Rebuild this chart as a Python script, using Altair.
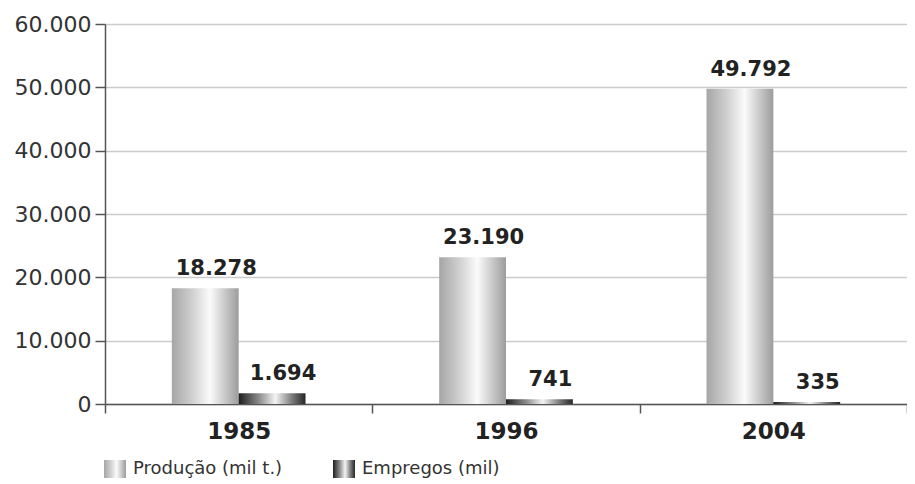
import altair as alt
import pandas as pd

anos = ["1985", "1996", "2004"]
series = ["Produção (mil t.)", "Empregos (mil)"]
producao = [18278, 23190, 49792]
empregos = [1694, 741, 335]
y_ticks = [0, 10000, 20000, 30000, 40000, 50000, 60000]

rows = []
for i, a in enumerate(anos):
    rows.append({"ano": a, "serie": series[0], "valor": producao[i]})
    rows.append({"ano": a, "serie": series[1], "valor": empregos[i]})
df = pd.DataFrame(rows)

grad_prod = ("{gradient: 'linear', x1: 0, y1: 0, x2: 1, y2: 0, stops: ["
             "{offset: 0, color: '#a6a6a6'}, {offset: 0.3, color: '#cfcfcf'},"
             "{offset: 0.57, color: '#fbfbfb'}, {offset: 0.8, color: '#c8c8c8'},"
             "{offset: 1, color: '#9c9c9c'}]}")
grad_emp = ("{gradient: 'linear', x1: 0, y1: 0, x2: 1, y2: 0, stops: ["
            "{offset: 0, color: '#1e1e1e'}, {offset: 0.3, color: '#8a8a8a'},"
            "{offset: 0.55, color: '#f4f4f4'}, {offset: 0.8, color: '#7a7a7a'},"
            "{offset: 1, color: '#262626'}]}")

FONT = "DejaVu Sans"

base = alt.Chart(df).encode(
    x=alt.X("ano:N", sort=anos,
            scale=alt.Scale(paddingInner=0, paddingOuter=0),
            axis=alt.Axis(title=None, labelAngle=0, labelFont=FONT, labelFontSize=23,
                          labelFontWeight="bold", labelColor="#222", labelPadding=7,
                          tickBand="extent", tickSize=9, tickColor="#555", tickWidth=1.5,
                          domainColor="#555", domainWidth=1.5, grid=False)),
    xOffset=alt.XOffset("serie:N", sort=series,
                        scale=alt.Scale(paddingOuter=1.0, paddingInner=0)),
)

bars = base.mark_bar().encode(
    y=alt.Y("valor:Q", scale=alt.Scale(domain=[0, 60000]),
            axis=alt.Axis(title=None, values=y_ticks, labelFont=FONT, labelFontSize=22,
                          labelColor="#333", labelPadding=4, tickSize=10, tickColor="#555",
                          tickWidth=1.5, domainColor="#555", domainWidth=1.5,
                          gridColor="#cccccc", gridWidth=1.5,
                          labelExpr="replace(format(datum.value, ','), ',', '.')")),
    color=alt.Color("serie:N", sort=series,
                    scale=alt.Scale(domain=series,
                                    range=[{"expr": grad_prod}, {"expr": grad_emp}]),
                    legend=alt.Legend(title=None, orient="none", legendX=0, legendY=435,
                                      direction="horizontal",
                                      symbolType="M-1.1,-0.9H1.1V0.9H-1.1Z",
                                      symbolSize=400, symbolStrokeWidth=0,
                                      labelFont=FONT, labelFontSize=18, labelColor="#333",
                                      labelOffset=8, columnPadding=50)),
)

labels = base.transform_calculate(
    rotulo="replace(format(datum.valor, ','), ',', '.')"
).mark_text(font=FONT, fontSize=21, fontWeight="bold", color="#222",
            baseline="bottom", dy=-9, dx=11).encode(
    y=alt.Y("valor:Q"),
    text="rotulo:N",
)

chart = alt.layer(bars, labels).properties(
    width=802, height=380,
    autosize=alt.AutoSizeParams(type="none"),
    padding={"left": 97, "top": 16, "right": 0, "bottom": 78},
).configure_view(stroke=None)

chart.save("out.html", embed_options={"renderer": "svg", "actions": False})
